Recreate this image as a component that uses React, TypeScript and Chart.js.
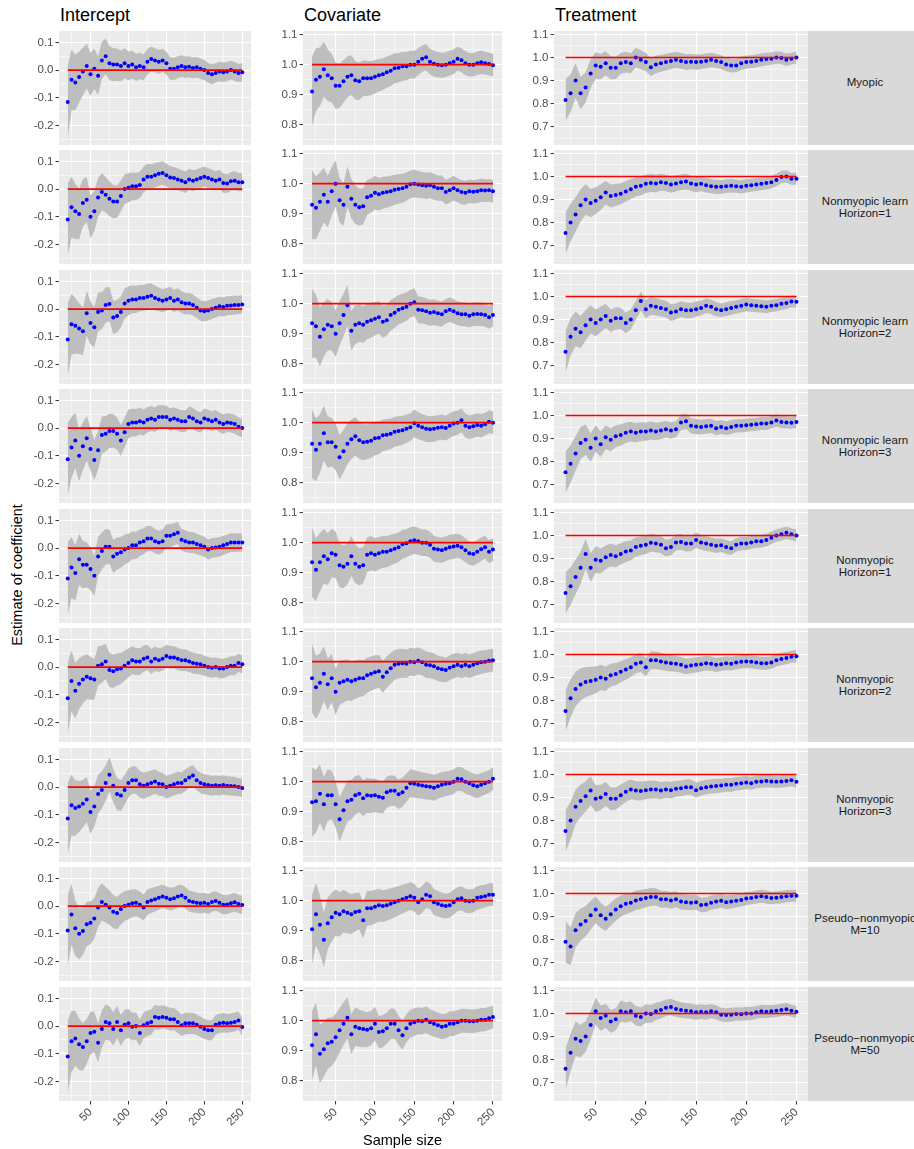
import React, { useEffect, useRef } from "react";
import { Chart, registerables } from "chart.js";

Chart.register(...registerables);
Chart.defaults.font.family = '"Liberation Sans", Arial, Helvetica, sans-serif';

// ---------------- data ----------------
const SAMPLE_SIZES = [
  20, 25, 30, 35, 40, 45, 50, 55, 60, 65,
  70, 75, 80, 85, 90, 95, 100, 105, 110, 115,
  120, 125, 130, 135, 140, 145, 150, 155, 160, 165,
  170, 175, 180, 185, 190, 195, 200, 205, 210, 215,
  220, 225, 230, 235, 240, 245, 250,
];

const COLUMN_TITLES = ["Intercept", "Covariate", "Treatment"];
const TRUE_VALUES = [0, 1, 1];
const ROW_LABELS = [
  ["Myopic", ""],
  ["Nonmyopic learn", "Horizon=1"],
  ["Nonmyopic learn", "Horizon=2"],
  ["Nonmyopic learn", "Horizon=3"],
  ["Nonmyopic", "Horizon=1"],
  ["Nonmyopic", "Horizon=2"],
  ["Nonmyopic", "Horizon=3"],
  ["Pseudo\u2212nonmyopic", "M=10"],
  ["Pseudo\u2212nonmyopic", "M=50"],
];

const X_MAJOR = [50, 100, 150, 200, 250];
const X_MINOR = [25, 75, 125, 175, 225];
const Y_MAJOR_INTERCEPT = [-0.2, -0.1, 0.0, 0.1];
const Y_MINOR_INTERCEPT = [-0.25, -0.15, -0.05, 0.05];
const Y_MAJOR_COVARIATE = [0.8, 0.9, 1.0, 1.1];
const Y_MINOR_COVARIATE = [0.75, 0.85, 0.95, 1.05];
const Y_MAJOR_TREATMENT = [0.7, 0.8, 0.9, 1.0, 1.1];
const Y_MINOR_TREATMENT = [0.65, 0.75, 0.85, 0.95, 1.05];

// ribbon half-widths (per column), read at the sample sizes above
const HW_INTERCEPT = [
  0.13, 0.11, 0.1, 0.092, 0.086, 0.081, 0.077, 0.073, 0.07, 0.067,
  0.064, 0.062, 0.06, 0.058, 0.056, 0.054, 0.052, 0.05, 0.049, 0.048,
  0.047, 0.046, 0.045, 0.044, 0.043, 0.042, 0.041, 0.041, 0.04, 0.04,
  0.039, 0.039, 0.038, 0.038, 0.037, 0.037, 0.036, 0.036, 0.036, 0.035,
  0.035, 0.035, 0.034, 0.034, 0.034, 0.033, 0.033,
];
const HW_COVARIATE = [
  0.115, 0.105, 0.097, 0.091, 0.086, 0.081, 0.077, 0.074, 0.071, 0.068,
  0.066, 0.064, 0.062, 0.06, 0.058, 0.057, 0.056, 0.054, 0.053, 0.052,
  0.051, 0.05, 0.049, 0.048, 0.047, 0.046, 0.046, 0.045, 0.044, 0.044,
  0.043, 0.043, 0.042, 0.042, 0.041, 0.041, 0.041, 0.04, 0.04, 0.04,
  0.039, 0.039, 0.039, 0.039, 0.038, 0.038, 0.038,
];
const HW_TREATMENT = [
  0.09, 0.082, 0.075, 0.07, 0.066, 0.062, 0.058, 0.055, 0.052, 0.05,
  0.048, 0.046, 0.045, 0.043, 0.042, 0.041, 0.04, 0.039, 0.038, 0.037,
  0.036, 0.036, 0.035, 0.034, 0.034, 0.033, 0.033, 0.032, 0.032, 0.031,
  0.031, 0.03, 0.03, 0.03, 0.029, 0.029, 0.029, 0.028, 0.028, 0.028,
  0.028, 0.027, 0.027, 0.027, 0.027, 0.026, 0.026,
];

// ---- Intercept estimates ----
const INTERCEPT_MYOPIC = [
  -0.115, -0.035, -0.045, -0.025, -0.005, 0.015, -0.015, 0.005, -0.02, 0.035,
  0.05, 0.025, 0.02, 0.02, 0.015, 0.025, 0.015, 0.02, 0.01, 0.015,
  0.01, 0.03, 0.04, 0.035, 0.03, 0.035, 0.025, 0.005, 0.005, 0.01,
  0.015, 0.01, 0.012, 0.008, 0.01, 0.005, 0.0, -0.01, -0.015, -0.01,
  -0.005, -0.008, -0.005, 0.0, -0.005, -0.01, -0.008,
];
const INTERCEPT_NL1 = [
  -0.11, -0.065, -0.08, -0.09, -0.05, -0.038, -0.1, -0.08, -0.03, -0.01,
  -0.02, -0.035, -0.045, -0.045, -0.025, 0.0, 0.005, 0.01, 0.01, 0.015,
  0.035, 0.045, 0.045, 0.05, 0.055, 0.058, 0.05, 0.042, 0.04, 0.035,
  0.03, 0.025, 0.035, 0.03, 0.035, 0.04, 0.045, 0.04, 0.035, 0.03,
  0.035, 0.022, 0.02, 0.028, 0.03, 0.025, 0.025,
];
const INTERCEPT_NL2 = [
  -0.11, -0.055, -0.06, -0.07, -0.08, -0.015, -0.05, -0.065, -0.01, -0.005,
  0.015, 0.018, -0.03, -0.025, -0.01, 0.02, 0.03, 0.035, 0.035, 0.04,
  0.04, 0.045, 0.048, 0.04, 0.035, 0.03, 0.035, 0.04, 0.03, 0.035,
  0.025, 0.02, 0.02, 0.015, 0.005, -0.005, -0.008, -0.005, 0.0, 0.005,
  0.01, 0.008, 0.012, 0.013, 0.015, 0.015, 0.017,
];
const INTERCEPT_NL3 = [
  -0.112, -0.07, -0.045, -0.1, -0.065, -0.037, -0.075, -0.115, -0.08, -0.025,
  -0.02, -0.01, -0.01, -0.02, -0.045, -0.015, 0.015, 0.02, 0.02, 0.025,
  0.02, 0.03, 0.035, 0.03, 0.04, 0.04, 0.04, 0.03, 0.035, 0.03,
  0.025, 0.025, 0.04, 0.035, 0.025, 0.02, 0.035, 0.03, 0.025, 0.03,
  0.02, 0.015, 0.02, 0.018, 0.015, 0.005, 0.0,
];
const INTERCEPT_NM1 = [
  -0.11, -0.07, -0.09, -0.04, -0.06, -0.06, -0.075, -0.1, -0.03, -0.01,
  0.005, 0.005, -0.03, -0.02, -0.015, -0.005, 0.0, 0.01, 0.01, 0.02,
  0.025, 0.035, 0.035, 0.025, 0.02, 0.025, 0.045, 0.045, 0.05, 0.055,
  0.03, 0.025, 0.02, 0.02, 0.015, 0.01, 0.005, -0.005, 0.0, 0.002,
  0.005, 0.01, 0.015, 0.02, 0.02, 0.02, 0.02,
];
const INTERCEPT_NM2 = [
  -0.112, -0.05, -0.085, -0.06, -0.045, -0.035, -0.04, -0.045, 0.005, 0.01,
  0.02, -0.01, -0.015, -0.008, -0.005, 0.005, 0.015, 0.025, 0.02, 0.02,
  0.03, 0.035, 0.02, 0.03, 0.025, 0.03, 0.04, 0.035, 0.035, 0.03,
  0.025, 0.025, 0.02, 0.015, 0.012, 0.01, 0.005, 0.0, -0.002, 0.0,
  -0.005, -0.005, 0.0, 0.005, 0.005, 0.015, 0.01,
];
const INTERCEPT_NM3 = [
  -0.113, -0.065, -0.075, -0.07, -0.06, -0.045, -0.09, -0.07, -0.025, -0.01,
  0.015, 0.045, 0.005, -0.025, -0.03, -0.01, 0.015, 0.025, 0.025, 0.01,
  0.005, 0.01, 0.015, 0.02, 0.012, 0.01, 0.0, 0.005, 0.01, 0.015,
  0.015, 0.025, 0.035, 0.042, 0.025, 0.015, 0.01, 0.008, 0.005, 0.007,
  0.005, 0.008, 0.005, 0.004, 0.003, 0.0, -0.003,
];
const INTERCEPT_PS10 = [
  -0.088, -0.03, -0.08, -0.1, -0.09, -0.065, -0.06, -0.045, -0.005, 0.015,
  0.005, -0.005, -0.02, -0.025, -0.01, 0.0, 0.005, 0.01, 0.012, 0.005,
  -0.005, 0.015, 0.02, 0.025, 0.03, 0.035, 0.03, 0.025, 0.028, 0.035,
  0.038, 0.03, 0.018, 0.015, 0.012, 0.01, 0.012, 0.008, 0.015, 0.018,
  0.012, 0.005, 0.006, 0.01, 0.014, 0.008, 0.004,
];
const INTERCEPT_PS50 = [
  -0.11, -0.055, -0.045, -0.065, -0.075, -0.055, -0.025, -0.02, -0.06, -0.01,
  0.015, 0.01, -0.01, 0.015, -0.015, 0.005, 0.01, -0.002, 0.0, -0.025,
  0.003, 0.01, 0.015, 0.033, 0.03, 0.033, 0.03, 0.025, 0.025, 0.015,
  0.003, 0.01, 0.01, 0.01, 0.005, -0.002, -0.01, -0.015, -0.015, 0.005,
  0.01, 0.012, 0.01, 0.012, 0.015, 0.02, -0.003,
];

// ---- Covariate estimates ----
const COVARIATE_MYOPIC = [
  0.911, 0.95, 0.96, 0.985, 0.965, 0.955, 0.93, 0.93, 0.945, 0.96,
  0.965, 0.948, 0.945, 0.955, 0.955, 0.955, 0.96, 0.965, 0.968, 0.975,
  0.98, 0.988, 0.99, 0.995, 0.995, 1.0, 1.0, 1.01, 1.02, 1.025,
  1.01, 1.003, 1.0, 0.998, 1.0, 1.005, 1.01, 1.02, 1.015, 1.005,
  1.0, 1.0, 1.005, 1.008, 1.005, 1.002, 0.998,
];
const COVARIATE_NL1 = [
  0.93, 0.92, 0.94, 0.963, 0.94, 0.975, 1.0, 0.945, 0.93, 0.99,
  0.95, 0.93, 0.922, 0.925, 0.955, 0.96, 0.97, 0.965, 0.97, 0.972,
  0.975, 0.98, 0.982, 0.985, 0.99, 0.998, 1.0, 0.997, 0.995, 0.993,
  0.995, 0.99, 0.985, 0.985, 0.972, 0.978, 0.985, 0.978, 0.972, 0.97,
  0.975, 0.973, 0.975, 0.978, 0.977, 0.978, 0.975,
];
const COVARIATE_NL2 = [
  0.935, 0.925, 0.89, 0.915, 0.93, 0.925, 0.9, 0.935, 0.962, 0.995,
  0.91, 0.93, 0.935, 0.93, 0.94, 0.945, 0.95, 0.955, 0.94, 0.945,
  0.962, 0.97, 0.98, 0.985, 0.99, 1.0, 1.005, 0.98, 0.978, 0.975,
  0.97, 0.972, 0.968, 0.965, 0.975, 0.98, 0.975, 0.968, 0.965, 0.965,
  0.96, 0.965, 0.966, 0.965, 0.962, 0.955, 0.962,
];
const COVARIATE_NL3 = [
  0.93, 0.91, 0.93, 0.965, 0.935, 0.935, 0.92, 0.885, 0.905, 0.93,
  0.945, 0.955, 0.942, 0.935, 0.937, 0.94, 0.948, 0.95, 0.958, 0.96,
  0.963, 0.97, 0.972, 0.975, 0.98, 0.985, 0.998, 0.99, 0.985, 0.98,
  0.978, 0.98, 0.983, 0.985, 0.982, 0.99, 0.997, 1.0, 1.008, 0.99,
  0.985, 0.988, 0.992, 0.99, 0.995, 1.003, 1.0,
];
const COVARIATE_NM1 = [
  0.935, 0.91, 0.935, 0.955, 0.945, 0.965, 0.96, 0.925, 0.92, 0.93,
  0.955, 0.93, 0.92, 0.925, 0.96, 0.965, 0.96, 0.965, 0.97, 0.97,
  0.975, 0.98, 0.985, 0.995, 0.998, 1.005, 1.008, 1.005, 1.0, 1.0,
  0.993, 0.98, 0.977, 0.975, 0.98, 0.985, 0.987, 0.99, 0.985, 0.975,
  0.965, 0.962, 0.97, 0.978, 0.985, 0.97, 0.977,
];
const COVARIATE_NM2 = [
  0.945, 0.915, 0.93, 0.96, 0.925, 0.945, 0.9, 0.93, 0.935, 0.94,
  0.935, 0.94, 0.945, 0.945, 0.955, 0.96, 0.965, 0.968, 0.95, 0.965,
  0.978, 0.99, 0.993, 0.995, 0.993, 1.0, 0.998, 1.003, 0.998, 0.99,
  0.988, 0.985, 0.978, 0.975, 0.972, 0.98, 0.985, 0.99, 0.985, 0.99,
  0.985, 0.99, 0.995, 0.998, 1.0, 1.003, 1.005,
];
const COVARIATE_NM3 = [
  0.932, 0.935, 0.96, 0.925, 0.955, 0.955, 0.925, 0.875, 0.905, 0.935,
  0.94, 0.955, 0.96, 0.945, 0.955, 0.953, 0.955, 0.95, 0.947, 0.965,
  0.97, 0.97, 0.958, 0.965, 0.98, 0.995, 0.993, 0.99, 0.987, 0.985,
  0.983, 0.98, 0.985, 0.99, 0.993, 0.995, 1.0, 1.01, 1.008, 1.0,
  0.995, 0.988, 0.985, 0.99, 0.995, 1.0, 1.01,
];
const COVARIATE_PS10 = [
  0.905, 0.955, 0.92, 0.87, 0.925, 0.945, 0.96, 0.955, 0.965, 0.96,
  0.955, 0.962, 0.965, 0.935, 0.975, 0.975, 0.98, 0.985, 0.982, 0.985,
  0.99, 0.995, 1.0, 1.005, 1.01, 1.015, 1.01, 0.995, 1.005, 1.02,
  1.015, 0.995, 0.99, 0.985, 0.982, 0.985, 0.995, 1.005, 1.008, 1.0,
  0.998, 1.0, 1.01, 1.012, 1.015, 1.02, 1.02,
];
const COVARIATE_PS50 = [
  0.918, 0.955, 0.89, 0.905, 0.925, 0.93, 0.945, 0.968, 0.99, 1.01,
  0.955, 0.98, 0.975, 0.972, 0.97, 0.975, 0.99, 0.962, 0.965, 0.975,
  0.99, 0.99, 0.968, 0.952, 0.975, 0.99, 0.995, 1.0, 0.998, 1.003,
  0.995, 0.99, 0.985, 0.98, 0.982, 0.99, 0.99, 0.995, 1.0, 1.0,
  0.998, 0.998, 1.0, 1.003, 1.003, 1.008, 1.012,
];

// ---- Treatment estimates ----
const TREATMENT_MYOPIC = [
  0.815, 0.845, 0.9, 0.845, 0.87, 0.93, 0.965, 0.96, 0.975, 0.955,
  0.955, 0.975, 0.98, 0.975, 1.0, 0.99, 0.98, 0.958, 0.97, 0.975,
  0.98, 0.985, 0.99, 0.985, 0.98, 0.982, 0.98, 0.982, 0.985, 0.99,
  0.985, 0.98, 0.97, 0.965, 0.965, 0.975, 0.98, 0.982, 0.985, 0.99,
  0.993, 0.995, 1.0, 0.998, 0.99, 0.995, 1.0,
];
const TREATMENT_NL1 = [
  0.755, 0.8, 0.835, 0.875, 0.9, 0.885, 0.895, 0.91, 0.93, 0.915,
  0.92, 0.925, 0.935, 0.945, 0.955, 0.96, 0.968, 0.972, 0.97, 0.975,
  0.972, 0.965, 0.97, 0.975, 0.978, 0.97, 0.965, 0.968, 0.962, 0.958,
  0.955, 0.955, 0.958, 0.96, 0.958, 0.955, 0.96, 0.962, 0.965, 0.968,
  0.972, 0.975, 0.985, 0.998, 1.0, 0.99, 0.99,
];
const TREATMENT_NL2 = [
  0.76, 0.825, 0.86, 0.845, 0.875, 0.9, 0.885, 0.9, 0.915, 0.895,
  0.905, 0.905, 0.885, 0.9, 0.94, 0.98, 0.945, 0.96, 0.955, 0.95,
  0.945, 0.93, 0.935, 0.945, 0.94, 0.94, 0.945, 0.95, 0.96, 0.955,
  0.945, 0.94, 0.945, 0.95, 0.955, 0.96, 0.965, 0.962, 0.96, 0.958,
  0.955, 0.96, 0.962, 0.968, 0.972, 0.978, 0.977,
];
const TREATMENT_NL3 = [
  0.754, 0.79, 0.835, 0.88, 0.895, 0.86, 0.9, 0.875, 0.905, 0.895,
  0.91, 0.915, 0.925, 0.93, 0.925, 0.93, 0.93, 0.935, 0.93, 0.935,
  0.94, 0.935, 0.94, 0.97, 0.975, 0.955, 0.952, 0.95, 0.953, 0.955,
  0.945, 0.95, 0.945, 0.95, 0.955, 0.955, 0.958, 0.96, 0.962, 0.965,
  0.965, 0.97, 0.978, 0.972, 0.97, 0.968, 0.972,
];
const TREATMENT_NM1 = [
  0.75, 0.78, 0.82, 0.86, 0.92, 0.86, 0.895, 0.89, 0.905, 0.915,
  0.91, 0.92, 0.93, 0.935, 0.95, 0.955, 0.96, 0.968, 0.965, 0.96,
  0.945, 0.95, 0.97, 0.972, 0.965, 0.965, 0.98, 0.97, 0.965, 0.96,
  0.955, 0.958, 0.95, 0.945, 0.96, 0.965, 0.965, 0.97, 0.975, 0.975,
  0.98, 0.99, 1.0, 1.005, 1.012, 1.005, 1.0,
];
const TREATMENT_NM2 = [
  0.755, 0.81, 0.85, 0.87, 0.88, 0.885, 0.89, 0.9, 0.895, 0.91,
  0.915, 0.925, 0.935, 0.945, 0.96, 0.965, 0.945, 0.975, 0.975, 0.97,
  0.965, 0.962, 0.96, 0.955, 0.948, 0.952, 0.955, 0.958, 0.962, 0.96,
  0.955, 0.958, 0.962, 0.96, 0.965, 0.968, 0.97, 0.968, 0.965, 0.962,
  0.962, 0.965, 0.975, 0.98, 0.985, 0.99, 0.992,
];
const TREATMENT_NM3 = [
  0.755, 0.8, 0.86, 0.885, 0.905, 0.93, 0.895, 0.9, 0.915, 0.895,
  0.895, 0.91, 0.925, 0.935, 0.93, 0.928, 0.932, 0.935, 0.935, 0.93,
  0.935, 0.932, 0.938, 0.94, 0.945, 0.945, 0.932, 0.94, 0.945, 0.948,
  0.95, 0.952, 0.955, 0.955, 0.96, 0.962, 0.965, 0.962, 0.968, 0.97,
  0.972, 0.97, 0.968, 0.97, 0.972, 0.975, 0.968,
];
const TREATMENT_PS10 = [
  0.79, 0.77, 0.84, 0.865, 0.88, 0.905, 0.93, 0.905, 0.89, 0.91,
  0.93, 0.945, 0.955, 0.96, 0.97, 0.975, 0.98, 0.985, 0.985, 0.975,
  0.975, 0.97, 0.975, 0.965, 0.962, 0.96, 0.962, 0.95, 0.952, 0.96,
  0.965, 0.968, 0.962, 0.965, 0.968, 0.972, 0.978, 0.98, 0.985, 0.988,
  0.985, 0.98, 0.982, 0.985, 0.988, 0.99, 0.99,
];
const TREATMENT_PS50 = [
  0.76, 0.83, 0.89, 0.88, 0.9, 0.95, 1.01, 0.98, 0.99, 0.965,
  0.975, 1.01, 1.005, 1.01, 0.99, 0.985, 1.0, 0.998, 1.01, 1.015,
  1.025, 1.028, 1.02, 1.015, 1.012, 1.01, 1.005, 1.008, 1.005, 1.01,
  1.005, 0.995, 0.993, 0.995, 0.998, 0.997, 1.0, 1.0, 1.005, 1.01,
  1.008, 1.01, 1.012, 1.015, 1.018, 1.012, 1.007,
];

// ---------------- tables built from the arrays ----------------
const SERIES = [
  [INTERCEPT_MYOPIC, COVARIATE_MYOPIC, TREATMENT_MYOPIC],
  [INTERCEPT_NL1, COVARIATE_NL1, TREATMENT_NL1],
  [INTERCEPT_NL2, COVARIATE_NL2, TREATMENT_NL2],
  [INTERCEPT_NL3, COVARIATE_NL3, TREATMENT_NL3],
  [INTERCEPT_NM1, COVARIATE_NM1, TREATMENT_NM1],
  [INTERCEPT_NM2, COVARIATE_NM2, TREATMENT_NM2],
  [INTERCEPT_NM3, COVARIATE_NM3, TREATMENT_NM3],
  [INTERCEPT_PS10, COVARIATE_PS10, TREATMENT_PS10],
  [INTERCEPT_PS50, COVARIATE_PS50, TREATMENT_PS50],
];
const HALF_WIDTHS = [HW_INTERCEPT, HW_COVARIATE, HW_TREATMENT];
const Y_MAJOR = [Y_MAJOR_INTERCEPT, Y_MAJOR_COVARIATE, Y_MAJOR_TREATMENT];
const Y_MINOR = [Y_MINOR_INTERCEPT, Y_MINOR_COVARIATE, Y_MINOR_TREATMENT];
const Y_LIMITS = [
  [-0.27, 0.141],
  [0.733, 1.112],
  [0.62, 1.115],
];
const X_LIMITS = [8.5, 261.5];

// ---------------- layout & style ----------------
const COL_LEFT = [59, 303, 554];
const COL_WIDTH = [192, 199, 254];
const ROW_TOP = [31, 150, 270, 389, 509, 628, 748, 867, 987];
const PANEL_H = 114;
const Y_AXIS_W = 34;
const PAD = 10;
const PAD_R = 12;
const X_AXIS_H = 36;
const STRIP_LEFT = 808;
const STRIP_W = 114;

const PANEL_BG = "#EBEBEB";
const RIBBON = "#BEBEBE";
const POINT_COLOR = "#0000FF";
const TRUE_COLOR = "#FF0000";
const TICK_TEXT = "#4D4D4D";
const TICK_MARK = "#333333";
const FONT = '"Liberation Sans", Arial, Helvetica, sans-serif';

const bgPlugin = {
  id: "panelBackground",
  beforeDraw(chart: any) {
    const { ctx, chartArea } = chart;
    if (!chartArea) return;
    ctx.save();
    ctx.fillStyle = PANEL_BG;
    ctx.fillRect(
      chartArea.left,
      chartArea.top,
      chartArea.right - chartArea.left,
      chartArea.bottom - chartArea.top
    );
    ctx.restore();
  },
};

const inList = (list: number[], v: number) =>
  list.some((m) => Math.abs(m - v) < 1e-9);

function makeConfig(row: number, col: number): any {
  const bottom = row === ROW_LABELS.length - 1;
  const est = SERIES[row][col];
  const hw = HALF_WIDTHS[col];
  const yMajor = Y_MAJOR[col];
  const yTicks = [...Y_MINOR[col], ...yMajor].sort((a, b) => a - b);
  const xTicks = [...X_MINOR, ...X_MAJOR].sort((a, b) => a - b);
  const tv = TRUE_VALUES[col];
  const last = SAMPLE_SIZES.length - 1;

  return {
    type: "line",
    data: {
      datasets: [
        {
          label: "lower",
          data: est.map((v, i) => ({ x: SAMPLE_SIZES[i], y: v - hw[i] })),
          borderWidth: 0,
          borderColor: "rgba(0,0,0,0)",
          pointRadius: 0,
          fill: false,
          order: 4,
        },
        {
          label: "upper",
          data: est.map((v, i) => ({ x: SAMPLE_SIZES[i], y: v + hw[i] })),
          borderWidth: 0,
          borderColor: "rgba(0,0,0,0)",
          backgroundColor: RIBBON,
          pointRadius: 0,
          fill: "-1",
          order: 3,
        },
        {
          label: "estimate",
          data: est.map((v, i) => ({ x: SAMPLE_SIZES[i], y: v })),
          showLine: false,
          pointRadius: 2,
          pointBackgroundColor: POINT_COLOR,
          pointBorderWidth: 0,
          borderColor: POINT_COLOR,
          order: 2,
        },
        {
          label: "true",
          data: [
            { x: SAMPLE_SIZES[0], y: tv },
            { x: SAMPLE_SIZES[last], y: tv },
          ],
          borderColor: TRUE_COLOR,
          borderWidth: 1.7,
          pointRadius: 0,
          fill: false,
          order: 1,
        },
      ],
    },
    options: {
      responsive: false,
      animation: false,
      devicePixelRatio: 1,
      events: [],
      layout: {
        padding: { left: 0, right: PAD_R, top: PAD, bottom: bottom ? 0 : PAD },
      },
      plugins: {
        legend: { display: false },
        tooltip: { enabled: false },
      },
      scales: {
        x: {
          type: "linear",
          min: X_LIMITS[0],
          max: X_LIMITS[1],
          afterBuildTicks: (s: any) => {
            s.ticks = xTicks.map((v) => ({ value: v }));
          },
          afterFit: (s: any) => {
            s.height = bottom ? X_AXIS_H : 0;
          },
          border: { display: false },
          grid: {
            color: "#FFFFFF",
            lineWidth: (ctx: any) =>
              ctx.tick && inList(X_MAJOR, ctx.tick.value) ? 1.1 : 0.55,
            drawTicks: bottom,
            tickLength: 3.5,
            tickWidth: 1,
            tickColor: (ctx: any) =>
              ctx.tick && inList(X_MAJOR, ctx.tick.value)
                ? TICK_MARK
                : "rgba(0,0,0,0)",
          },
          ticks: {
            display: bottom,
            autoSkip: false,
            minRotation: 45,
            maxRotation: 45,
            padding: 1,
            color: TICK_TEXT,
            font: { size: 11.5, family: FONT },
            callback: (v: number) => (inList(X_MAJOR, v) ? String(v) : ""),
          },
        },
        y: {
          type: "linear",
          min: Y_LIMITS[col][0],
          max: Y_LIMITS[col][1],
          afterBuildTicks: (s: any) => {
            s.ticks = yTicks.map((v) => ({ value: v }));
          },
          afterFit: (s: any) => {
            s.width = Y_AXIS_W;
          },
          border: { display: false },
          grid: {
            color: "#FFFFFF",
            lineWidth: (ctx: any) =>
              ctx.tick && inList(yMajor, ctx.tick.value) ? 1.1 : 0.55,
            drawTicks: true,
            tickLength: 3.5,
            tickWidth: 1,
            tickColor: (ctx: any) =>
              ctx.tick && inList(yMajor, ctx.tick.value)
                ? TICK_MARK
                : "rgba(0,0,0,0)",
          },
          ticks: {
            autoSkip: false,
            padding: 2,
            color: TICK_TEXT,
            font: { size: 11.5, family: FONT },
            callback: (v: number) => (inList(yMajor, v) ? v.toFixed(1) : ""),
          },
        },
      },
    },
    plugins: [bgPlugin],
  };
}

function Panel({ row, col }: { row: number; col: number }) {
  const ref = useRef<HTMLCanvasElement>(null);
  const bottom = row === ROW_LABELS.length - 1;
  const width = Y_AXIS_W + COL_WIDTH[col] + PAD_R;
  const height = PAD + PANEL_H + (bottom ? X_AXIS_H : PAD);

  useEffect(() => {
    if (!ref.current) return;
    const chart = new Chart(ref.current, makeConfig(row, col));
    return () => chart.destroy();
  }, [row, col]);

  return (
    <canvas
      ref={ref}
      width={width}
      height={height}
      style={{
        position: "absolute",
        left: COL_LEFT[col] - Y_AXIS_W,
        top: ROW_TOP[row] - PAD,
        width,
        height,
      }}
    />
  );
}

export default function App() {
  const panels: React.ReactNode[] = [];
  for (let r = 0; r < ROW_LABELS.length; r++) {
    for (let c = 0; c < COLUMN_TITLES.length; c++) {
      panels.push(<Panel key={`p-${r}-${c}`} row={r} col={c} />);
    }
  }

  return (
    <div
      style={{
        position: "fixed",
        left: 0,
        top: 0,
        width: 914,
        height: 1149,
        overflow: "hidden",
        background: "#FFFFFF",
        fontFamily: FONT,
      }}
    >
      {COLUMN_TITLES.map((t, c) => (
        <div
          key={t}
          style={{
            position: "absolute",
            left: COL_LEFT[c] + 1,
            top: 6,
            fontSize: 18,
            lineHeight: "18px",
            color: "#000",
            whiteSpace: "nowrap",
          }}
        >
          {t}
        </div>
      ))}

      {ROW_LABELS.map((lines, r) => (
        <div
          key={`s-${r}`}
          style={{
            position: "absolute",
            left: STRIP_LEFT,
            top: ROW_TOP[r],
            width: STRIP_W,
            height: PANEL_H,
            background: "#D9D9D9",
            display: "flex",
            flexDirection: "column",
            alignItems: "center",
            justifyContent: "center",
            color: "#1A1A1A",
            fontSize: 11.5,
            lineHeight: "12px",
            textAlign: "center",
            whiteSpace: "nowrap",
          }}
        >
          {lines.map((l, i) => (
            <div key={i} style={{ height: 12 }}>
              {l}
            </div>
          ))}
        </div>
      ))}

      {panels}

      <div
        style={{
          position: "absolute",
          left: 17,
          top: 575,
          transform: "translate(-50%, -50%) rotate(-90deg)",
          fontSize: 14.5,
          color: "#000",
          whiteSpace: "nowrap",
        }}
      >
        Estimate of coefficient
      </div>
      <div
        style={{
          position: "absolute",
          left: 402.5,
          top: 1140,
          transform: "translate(-50%, -50%)",
          fontSize: 14.5,
          color: "#000",
          whiteSpace: "nowrap",
        }}
      >
        Sample size
      </div>
    </div>
  );
}
